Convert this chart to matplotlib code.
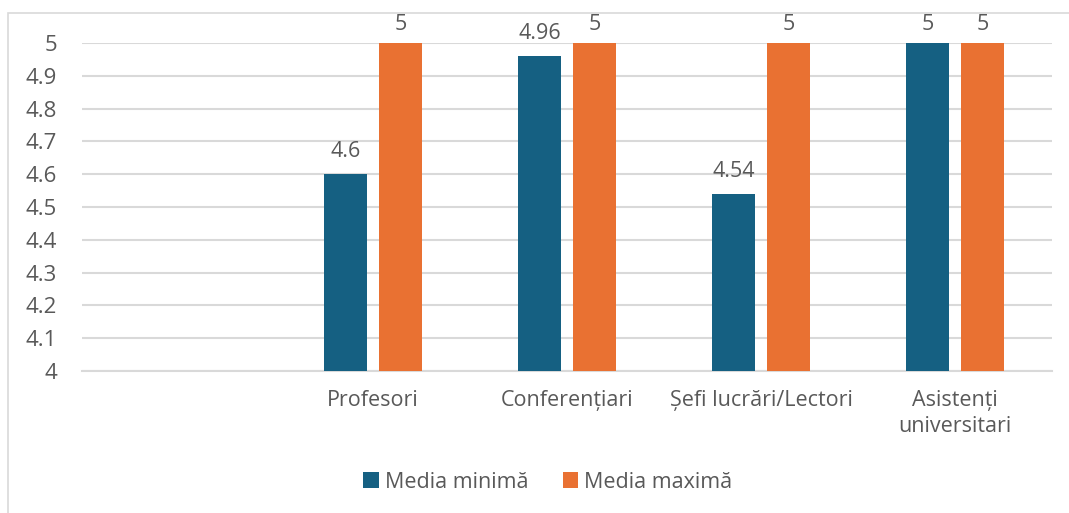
import numpy as np
import matplotlib
matplotlib.use("Agg")
import matplotlib.pyplot as plt
from matplotlib.patches import Rectangle

# Chart data
categories = ["", "Profesori", "Conferențiari", "Șefi lucrări/Lectori", "Asistenți\nuniversitari"]
media_minima = [np.nan, 4.6, 4.96, 4.54, 5]
media_maxima = [np.nan, 5, 5, 5, 5]
series_names = ["Media minimă", "Media maximă"]
y_ticks = [4, 4.1, 4.2, 4.3, 4.4, 4.5, 4.6, 4.7, 4.8, 4.9, 5]

blue = "#156082"
orange = "#E97132"
text_col = "#595959"
grid_col = "#D9D9D9"

plt.rcParams['font.family'] = ['Open Sans', 'DejaVu Sans']

fig = plt.figure(figsize=(10.69, 5.13), dpi=100)
ax = fig.add_axes([82/1069, 1 - 371/513, (1052-82)/1069, (371-43)/513])

# outer chart frame
fig.patches.append(Rectangle((8/1069, -0.1), 1.2, 1.1 - 13/513, transform=fig.transFigure,
                             fill=False, edgecolor=grid_col, linewidth=1.2))

x = np.arange(len(categories))
w = 0.22
off = 0.142
b1 = ax.bar(x - off, media_minima, w, color=blue, label=series_names[0], zorder=3)
b2 = ax.bar(x + off, media_maxima, w, color=orange, label=series_names[1], zorder=3)

ax.set_ylim(4, 5)
ax.set_xlim(-0.5, len(categories) - 0.5)

def fmt(v):
    return f"{v:g}"

# labels sit above the bar, but are kept inside the chart area (like Excel)
max_bottom = 513 - 35
for bars, vals in ((b1, media_minima), (b2, media_maxima)):
    for rect, v in zip(bars, vals):
        if np.isnan(v):
            continue
        y_disp = ax.transData.transform((0, v))[1]
        off_px = min(y_disp + 12, max_bottom) - y_disp
        ax.annotate(fmt(v), (rect.get_x() + rect.get_width()/2, v), xytext=(0, off_px * 0.72),
                    textcoords="offset points", ha="center", va="bottom",
                    fontsize=15.5, color=text_col, clip_on=False)

ax.set_yticks(y_ticks)
ax.set_yticklabels([fmt(t) for t in y_ticks])
ax.set_xticks(x)
ax.set_xticklabels(categories, linespacing=1.3)
ax.tick_params(axis="y", length=0, pad=18, labelsize=16, labelcolor=text_col)
ax.tick_params(axis="x", length=0, pad=14, labelsize=15.5, labelcolor=text_col)
ax.yaxis.grid(True, color=grid_col, linewidth=1.5, zorder=0)
for s in ("top", "right", "left"):
    ax.spines[s].set_visible(False)
ax.spines["bottom"].set_color(grid_col)
ax.spines["bottom"].set_linewidth(1.5)

fig.legend(handles=[b1, b2], labels=series_names, loc="center", bbox_to_anchor=(548/1069, 1 - 482/513),
           ncol=2, frameon=False, fontsize=15.5, labelcolor=text_col, handlelength=0.7, handleheight=0.7,
           handletextpad=0.3, columnspacing=1.6)

fig.savefig("out.png", dpi=100, facecolor="white")
